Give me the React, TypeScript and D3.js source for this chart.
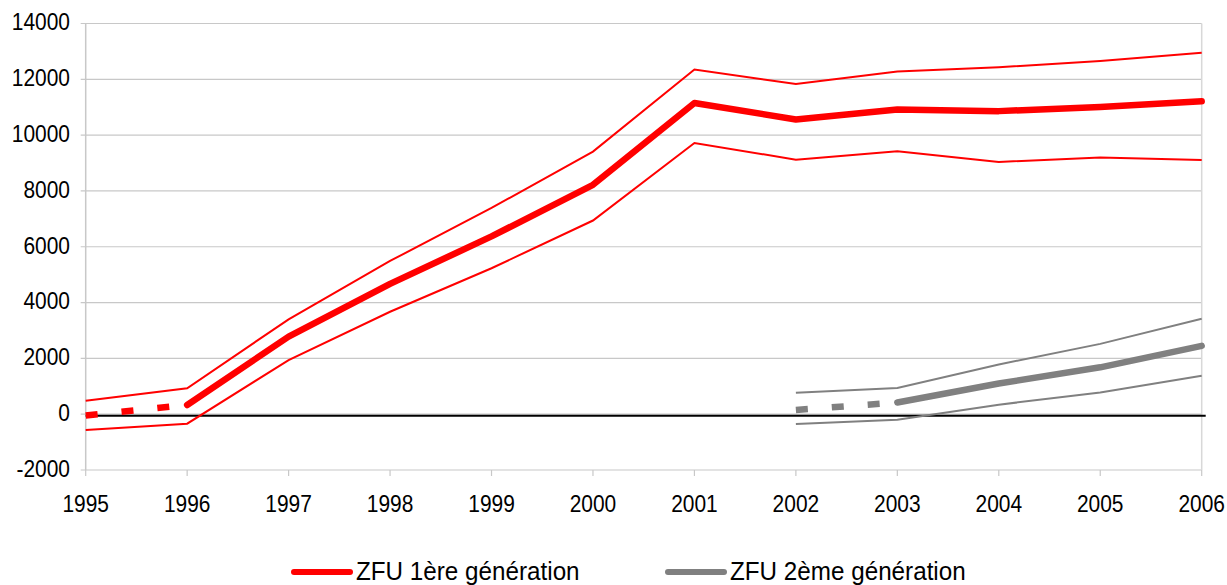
import React from 'react';
import * as d3 from 'd3';

const years = [1995, 1996, 1997, 1998, 1999, 2000, 2001, 2002, 2003, 2004, 2005, 2006];
const yTicks = [-2000, 0, 2000, 4000, 6000, 8000, 10000, 12000, 14000];

// ZFU 1ère génération (estimate + confidence band)
const gen1 = [-50, 330, 2780, 4670, 6370, 8220, 11150, 10560, 10920, 10860, 11010, 11210];
const gen1High = [480, 930, 3400, 5490, 7390, 9410, 12350, 11830, 12280, 12430, 12660, 12950];
const gen1Low = [-570, -340, 1940, 3670, 5230, 6940, 9720, 9120, 9420, 9040, 9200, 9110];

// ZFU 2ème génération, starts in 2002
const gen2Years = [2002, 2003, 2004, 2005, 2006];
const gen2 = [150, 420, 1100, 1680, 2450];
const gen2High = [770, 940, 1780, 2520, 3420];
const gen2Low = [-350, -200, 340, 780, 1380];

const legendLabels = ['ZFU 1ère génération', 'ZFU 2ème génération'];

const RED = '#ff0000';
const GREY = '#808080';
const FONT = '"Liberation Sans", Arial, sans-serif';

export default function App() {
  const width = 1227;
  const height = 585;
  const left = 85.7, right = 1201.7, top = 23.5, bottom = 470;

  const x = d3.scaleLinear().domain([1995, 2006]).range([left, right]);
  const y = d3.scaleLinear().domain([-2000, 14000]).range([bottom, top]);

  const line = d3
    .line<[number, number]>()
    .x(d => x(d[0]))
    .y(d => y(d[1]));

  const pts = (ys: number[], vals: number[]) => ys.map((yr, i) => [yr, vals[i]] as [number, number]);

  const g1 = pts(years, gen1);
  const g2 = pts(gen2Years, gen2);

  return (
    <svg width={width} height={height} style={{ position: 'absolute', left: 0, top: 0, background: '#fff' }}>
      {/* grid */}
      {yTicks.map(t => (
        <g key={t}>
          <line x1={left - 5} x2={right} y1={y(t)} y2={y(t)} stroke="#c8c8c8" strokeWidth={1.2} />
          <text
            transform={`translate(70,${y(t) + 6.8}) scale(0.91,1)`}
            textAnchor="end"
            fontFamily={FONT}
            fontSize={23}
            fill="#000"
          >
            {t}
          </text>
        </g>
      ))}
      <line x1={left} x2={left} y1={top} y2={bottom} stroke="#c8c8c8" strokeWidth={1.5} />
      <line x1={right} x2={right} y1={top} y2={bottom} stroke="#d8d8d8" strokeWidth={1.5} />
      {years.map(yr => (
        <g key={yr}>
          <line x1={x(yr)} x2={x(yr)} y1={bottom} y2={bottom + 6} stroke="#c8c8c8" strokeWidth={1.2} />
          <text
            transform={`translate(${x(yr)},511.5) scale(0.91,1)`}
            textAnchor="middle"
            fontFamily={FONT}
            fontSize={23}
            fill="#000"
          >
            {yr}
          </text>
        </g>
      ))}

      {/* zero line */}
      <line x1={left} x2={right + 4} y1={y(0) + 1.5} y2={y(0) + 1.5} stroke="#000" strokeWidth={2} />

      {/* first generation */}
      <path d={line(pts(years, gen1High)) || ''} fill="none" stroke={RED} strokeWidth={2} />
      <path d={line(pts(years, gen1Low)) || ''} fill="none" stroke={RED} strokeWidth={2} />
      <path d={line(g1.slice(0, 2)) || ''} fill="none" stroke={RED} strokeWidth={6.5} strokeDasharray="12 24" />
      <path
        d={line(g1.slice(1)) || ''}
        fill="none"
        stroke={RED}
        strokeWidth={6.5}
        strokeLinecap="round"
        strokeLinejoin="round"
      />

      {/* second generation */}
      <path d={line(pts(gen2Years, gen2High)) || ''} fill="none" stroke={GREY} strokeWidth={2} />
      <path d={line(pts(gen2Years, gen2Low)) || ''} fill="none" stroke={GREY} strokeWidth={2} />
      <path d={line(g2.slice(0, 2)) || ''} fill="none" stroke={GREY} strokeWidth={6.5} strokeDasharray="12 24" />
      <path
        d={line(g2.slice(1)) || ''}
        fill="none"
        stroke={GREY}
        strokeWidth={6.5}
        strokeLinecap="round"
        strokeLinejoin="round"
      />

      {/* legend */}
      {legendLabels.map((lab, i) => {
        const lx = i === 0 ? 294 : 668;
        return (
          <g key={lab}>
            <line
              x1={lx}
              x2={lx + 56}
              y1={572}
              y2={572}
              stroke={i === 0 ? RED : GREY}
              strokeWidth={6}
              strokeLinecap="round"
            />
            <text
              transform={`translate(${lx + 62},579.5) scale(0.97,1)`}
              fontFamily={FONT}
              fontSize={25}
              fill="#000"
            >
              {lab}
            </text>
          </g>
        );
      })}
    </svg>
  );
}
